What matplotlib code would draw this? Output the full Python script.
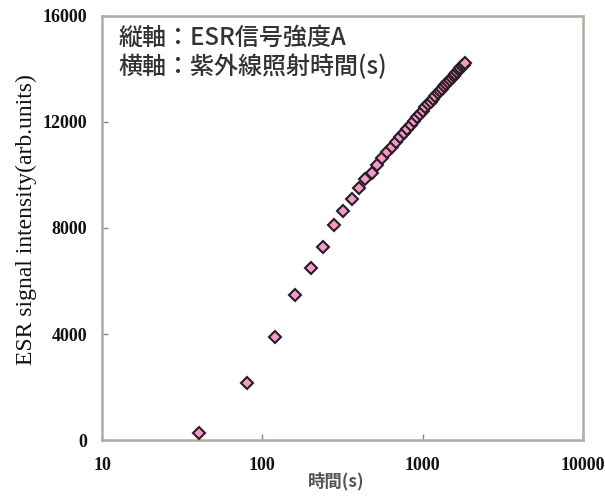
import matplotlib
matplotlib.use("Agg")
import matplotlib.pyplot as plt
from matplotlib.ticker import FixedLocator, FixedFormatter, NullLocator

# UV irradiation time (s) and ESR signal intensity (arb. units)
time_s = [40, 80, 120, 160, 200, 240, 280, 320, 360, 400,
          440, 480, 520, 560, 600, 640, 680, 720, 760, 800,
          840, 880, 920, 960, 1000, 1040, 1080, 1120, 1160, 1200,
          1240, 1280, 1320, 1360, 1400, 1440, 1480, 1520, 1560, 1600,
          1640, 1680, 1720, 1760, 1800, 1840]
intensity = [260, 2150, 3890, 5470, 6480, 7300, 8110, 8640, 9080, 9500,
             9840, 10090, 10380, 10630, 10850, 11054, 11244, 11423, 11591, 11750,
             11900, 12043, 12179, 12308, 12432, 12550, 12664, 12772, 12877, 12978,
             13075, 13169, 13260, 13347, 13432, 13515, 13594, 13672, 13747, 13820,
             13891, 13961, 14028, 14094, 14158, 14220]

x_ticks = [10, 100, 1000, 10000]
x_tick_labels = ["10", "100", "1000", "10000"]
y_ticks = [0, 4000, 8000, 12000, 16000]
y_tick_labels = ["0", "4000", "8000", "12000", "16000"]

note_lines = ["縦軸：ESR信号強度A", "横軸：紫外線照射時間(s)"]
x_label = "時間(s)"
y_label = "ESR signal intensity(arb.units)"

jp_font = ["Noto Sans CJK JP", "DejaVu Sans"]
serif_font = ["Liberation Serif", "DejaVu Serif"]

fig = plt.figure(figsize=(6.05, 4.99), dpi=100)
ax = fig.add_axes([0.1686, 0.1182, 0.795, 0.8498])

ax.plot(time_s, intensity, linestyle="none", marker="D", markersize=6.6,
        markerfacecolor="#f29acb", markeredgecolor="#2b1b24",
        markeredgewidth=1.5, zorder=3)

ax.set_xscale("log")
ax.set_xlim(10, 10000)
ax.set_ylim(0, 16000)

ax.xaxis.set_major_locator(FixedLocator(x_ticks))
ax.xaxis.set_major_formatter(FixedFormatter(x_tick_labels))
ax.xaxis.set_minor_locator(NullLocator())
ax.yaxis.set_major_locator(FixedLocator(y_ticks))
ax.yaxis.set_major_formatter(FixedFormatter(y_tick_labels))

for spine in ax.spines.values():
    spine.set_color("#b3aba4")
    spine.set_linewidth(1.8)

ax.tick_params(axis="both", direction="in", length=4, width=1,
               color="#8a827c")
ax.tick_params(axis="y", pad=10.5)
ax.tick_params(axis="x", pad=12)
for lbl in ax.get_xticklabels() + ax.get_yticklabels():
    lbl.set_fontfamily(serif_font)
    lbl.set_fontweight("bold")
    lbl.set_fontsize(13)
    lbl.set_color("#111111")

ax.set_ylabel(y_label, fontfamily=serif_font, fontsize=17, color="#111111")
ax.yaxis.set_label_coords(-0.135, 0.52)

fig.text(0.555, 0.018, x_label, fontfamily=jp_font, fontweight="bold",
         fontsize=12.5, color="#555555", ha="center", va="bottom")

for i, line in enumerate(note_lines):
    ax.text(0.035, 0.948 - i * 0.069, line, transform=ax.transAxes,
            fontfamily=jp_font, fontweight="medium", fontsize=17.3,
            color="#333333", ha="left", va="center")

fig.savefig("out.png", dpi=100)
